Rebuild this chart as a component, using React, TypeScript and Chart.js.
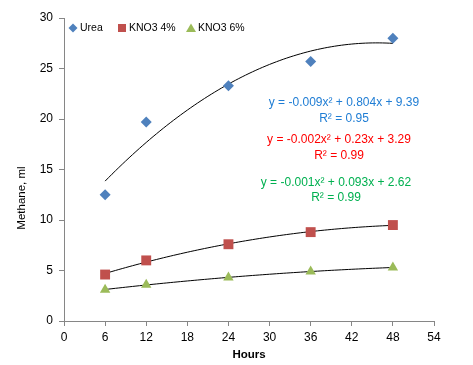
import React, { useEffect, useRef } from "react";
import { Chart, registerables } from "chart.js";

Chart.register(...registerables);

const hours = [6, 12, 24, 36, 48];
const ureaValues = [12.5, 19.7, 23.3, 25.7, 28.0];
const kno3_4Values = [4.6, 6.0, 7.6, 8.8, 9.5];
const kno3_6Values = [3.1, 3.6, 4.3, 4.9, 5.3];
const seriesNames = ["Urea", "KNO3 4%", "KNO3 6%"];
const seriesColors = ["#4F81BD", "#C0504D", "#9BBB59"];
const equationTexts = [
  ["y = -0.009x² + 0.804x + 9.39", "R² = 0.95"],
  ["y = -0.002x² + 0.23x + 3.29", "R² = 0.99"],
  ["y = -0.001x² + 0.093x + 2.62", "R² = 0.99"],
];
const equationColors = ["#1F7DD4", "#FF0000", "#00B050"];
const xTicks = [0, 6, 12, 18, 24, 30, 36, 42, 48, 54];
const yTicks = [0, 5, 10, 15, 20, 25, 30];

const FONT = "'Liberation Sans', Arial, sans-serif";

// least-squares quadratic fit of the data (Excel polynomial trendline)
function quadFit(xs: number[], ys: number[]) {
  let s0 = 0, s1 = 0, s2 = 0, s3 = 0, s4 = 0, t0 = 0, t1 = 0, t2 = 0;
  for (let i = 0; i < xs.length; i++) {
    const x = xs[i], y = ys[i];
    s0 += 1; s1 += x; s2 += x * x; s3 += x ** 3; s4 += x ** 4;
    t0 += y; t1 += x * y; t2 += x * x * y;
  }
  const M = [
    [s4, s3, s2, t2],
    [s3, s2, s1, t1],
    [s2, s1, s0, t0],
  ];
  for (let i = 0; i < 3; i++) {
    for (let k = i + 1; k < 3; k++) {
      const f = M[k][i] / M[i][i];
      for (let j = i; j < 4; j++) M[k][j] -= f * M[i][j];
    }
  }
  const r = [0, 0, 0];
  for (let i = 2; i >= 0; i--) {
    let s = M[i][3];
    for (let j = i + 1; j < 3; j++) s -= M[i][j] * r[j];
    r[i] = s / M[i][i];
  }
  return r; // a, b, c
}

function trendPoints(xs: number[], ys: number[]) {
  const [a, b, c] = quadFit(xs, ys);
  const pts: { x: number; y: number }[] = [];
  const x0 = xs[0], x1 = xs[xs.length - 1];
  for (let i = 0; i <= 84; i++) {
    const x = x0 + ((x1 - x0) * i) / 84;
    pts.push({ x, y: a * x * x + b * x + c });
  }
  return pts;
}

function drawMarker(ctx: CanvasRenderingContext2D, kind: number, x: number, y: number, color: string) {
  ctx.save();
  ctx.fillStyle = color;
  ctx.beginPath();
  if (kind === 0) {
    ctx.moveTo(x, y - 4.5);
    ctx.lineTo(x + 4.5, y);
    ctx.lineTo(x, y + 4.5);
    ctx.lineTo(x - 4.5, y);
  } else if (kind === 1) {
    ctx.rect(x - 4, y - 4, 8, 8);
  } else {
    ctx.moveTo(x, y - 4.5);
    ctx.lineTo(x + 5, y + 4);
    ctx.lineTo(x - 5, y + 4);
  }
  ctx.closePath();
  ctx.fill();
  ctx.restore();
}

const overlayPlugin = {
  id: "overlay",
  afterDraw(chart: any) {
    const ctx = chart.ctx as CanvasRenderingContext2D;
    const xs = chart.scales.x;
    ctx.save();
    // legend
    ctx.font = `10.5px ${FONT}`;
    ctx.textBaseline = "middle";
    ctx.textAlign = "left";
    const legendY = 28;
    const legendX = [73, 122, 191];
    for (let i = 0; i < 3; i++) {
      drawMarker(ctx, i, legendX[i], legendY, seriesColors[i]);
      ctx.fillStyle = "#000";
      ctx.fillText(seriesNames[i], legendX[i] + 7, legendY);
    }
    // equations
    const eqPos = [
      [344, 103, 119],
      [339, 140, 156],
      [336, 183, 198],
    ];
    ctx.font = `12px ${FONT}`;
    ctx.textAlign = "center";
    for (let i = 0; i < 3; i++) {
      ctx.fillStyle = equationColors[i];
      ctx.fillText(equationTexts[i][0], eqPos[i][0], eqPos[i][1]);
      ctx.fillText(equationTexts[i][1], eqPos[i][0], eqPos[i][2]);
    }
    // axis titles
    ctx.fillStyle = "#000";
    ctx.font = `bold 11.5px ${FONT}`;
    ctx.fillText("Hours", (xs.left + xs.right) / 2, 355);
    ctx.font = `11.5px ${FONT}`;
    ctx.translate(22, 198);
    ctx.rotate(-Math.PI / 2);
    ctx.fillText("Methane, ml", 0, 0);
    ctx.restore();
  },
};

export default function App() {
  const ref = useRef<HTMLCanvasElement>(null);
  useEffect(() => {
    document.body.style.margin = "0";
    const canvas = ref.current!;
    const values = [ureaValues, kno3_4Values, kno3_6Values];
    const styles = ["rectRot", "rect", "triangle"];
    const radii = [5.5, 7, 6];
    const datasets: any[] = [];
    for (let i = 0; i < 3; i++) {
      datasets.push({
        type: "line",
        label: seriesNames[i] + " trend",
        data: trendPoints(hours, values[i]),
        borderColor: "#000",
        borderWidth: 1,
        pointRadius: 0,
        showLine: true,
        fill: false,
        order: 2,
      });
    }
    for (let i = 0; i < 3; i++) {
      datasets.push({
        type: "scatter",
        label: seriesNames[i],
        data: hours.map((h, j) => ({ x: h, y: values[i][j] })),
        backgroundColor: seriesColors[i],
        borderColor: seriesColors[i],
        borderWidth: 0,
        pointStyle: styles[i],
        pointRadius: radii[i],
        order: 1,
      });
    }
    const chart = new Chart(canvas, {
      type: "scatter",
      data: { datasets },
      options: {
        animation: false,
        responsive: false,
        devicePixelRatio: 1,
        layout: { padding: { left: 0, right: 39, top: 18, bottom: 0 } },
        plugins: { legend: { display: false }, tooltip: { enabled: false } },
        scales: {
          x: {
            type: "linear",
            min: 0,
            max: 54,
            afterBuildTicks: (s: any) => {
              s.ticks = xTicks.map((v) => ({ value: v }));
            },
            afterFit: (s: any) => {
              s.height = 44;
            },
            grid: { drawOnChartArea: false, drawTicks: true, tickLength: 5, color: "#868686" },
            border: { color: "#868686", width: 1 },
            ticks: { color: "#000", font: { family: FONT, size: 12 }, padding: 4 },
          },
          y: {
            type: "linear",
            min: 0,
            max: 30,
            afterBuildTicks: (s: any) => {
              s.ticks = yTicks.map((v) => ({ value: v }));
            },
            afterFit: (s: any) => {
              s.width = 64;
            },
            grid: { drawOnChartArea: false, drawTicks: true, tickLength: 5, color: "#868686" },
            border: { color: "#868686", width: 1 },
            ticks: { color: "#000", font: { family: FONT, size: 12 }, padding: 6 },
          },
        },
      },
      plugins: [overlayPlugin],
    } as any);
    return () => chart.destroy();
  }, []);
  return (
    <div style={{ position: "absolute", left: 0, top: 0, width: 473, height: 365, background: "#fff" }}>
      <canvas ref={ref} width={473} height={365} style={{ width: 473, height: 365 }} />
    </div>
  );
}
